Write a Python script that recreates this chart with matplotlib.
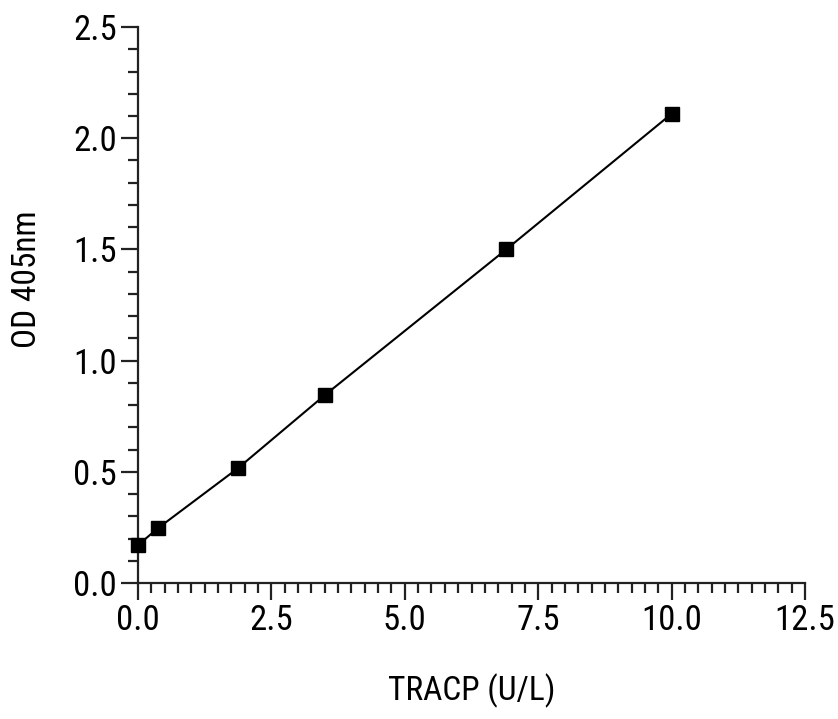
import matplotlib
matplotlib.use('Agg')
import matplotlib.pyplot as plt
from matplotlib.ticker import MultipleLocator

plt.rcParams['font.family'] = ['Roboto Condensed', 'Liberation Sans', 'DejaVu Sans']

# standard curve
tracp = [0.0, 0.375, 1.875, 3.5, 6.9, 10.0]
od405 = [0.171, 0.247, 0.517, 0.845, 1.50, 2.11]

fig = plt.figure(figsize=(8.38, 7.19), dpi=100)
ax = fig.add_axes([0.1647, 0.189, 0.7959, 0.7734])

ax.plot(tracp, od405, color='black', lw=1.5, marker='s', ms=9.5,
        clip_on=False, zorder=3)

ax.set_xlim(0, 12.5)
ax.set_ylim(0, 2.5)
ax.xaxis.set_major_locator(MultipleLocator(2.5))
ax.xaxis.set_minor_locator(MultipleLocator(0.25))
ax.yaxis.set_major_locator(MultipleLocator(0.5))
ax.yaxis.set_minor_locator(MultipleLocator(0.1))
ax.xaxis.set_major_formatter(plt.FormatStrFormatter('%.1f'))
ax.yaxis.set_major_formatter(plt.FormatStrFormatter('%.1f'))

for s in ['top', 'right']:
    ax.spines[s].set_visible(False)
for s in ['left', 'bottom']:
    ax.spines[s].set_linewidth(1.6)
    ax.spines[s].set_color('#222222')

ax.tick_params(which='major', length=12, width=1.6, labelsize=25, pad=3, color='#222222')
ax.tick_params(which='minor', length=7, width=1.6, color='#222222')

ax.set_xlabel('TRACP (U/L)', fontsize=24, labelpad=26)
ax.set_ylabel('OD 405nm', fontsize=24)
ax.yaxis.set_label_coords(-0.143, 0.547)

fig.savefig('out.png', dpi=100)
